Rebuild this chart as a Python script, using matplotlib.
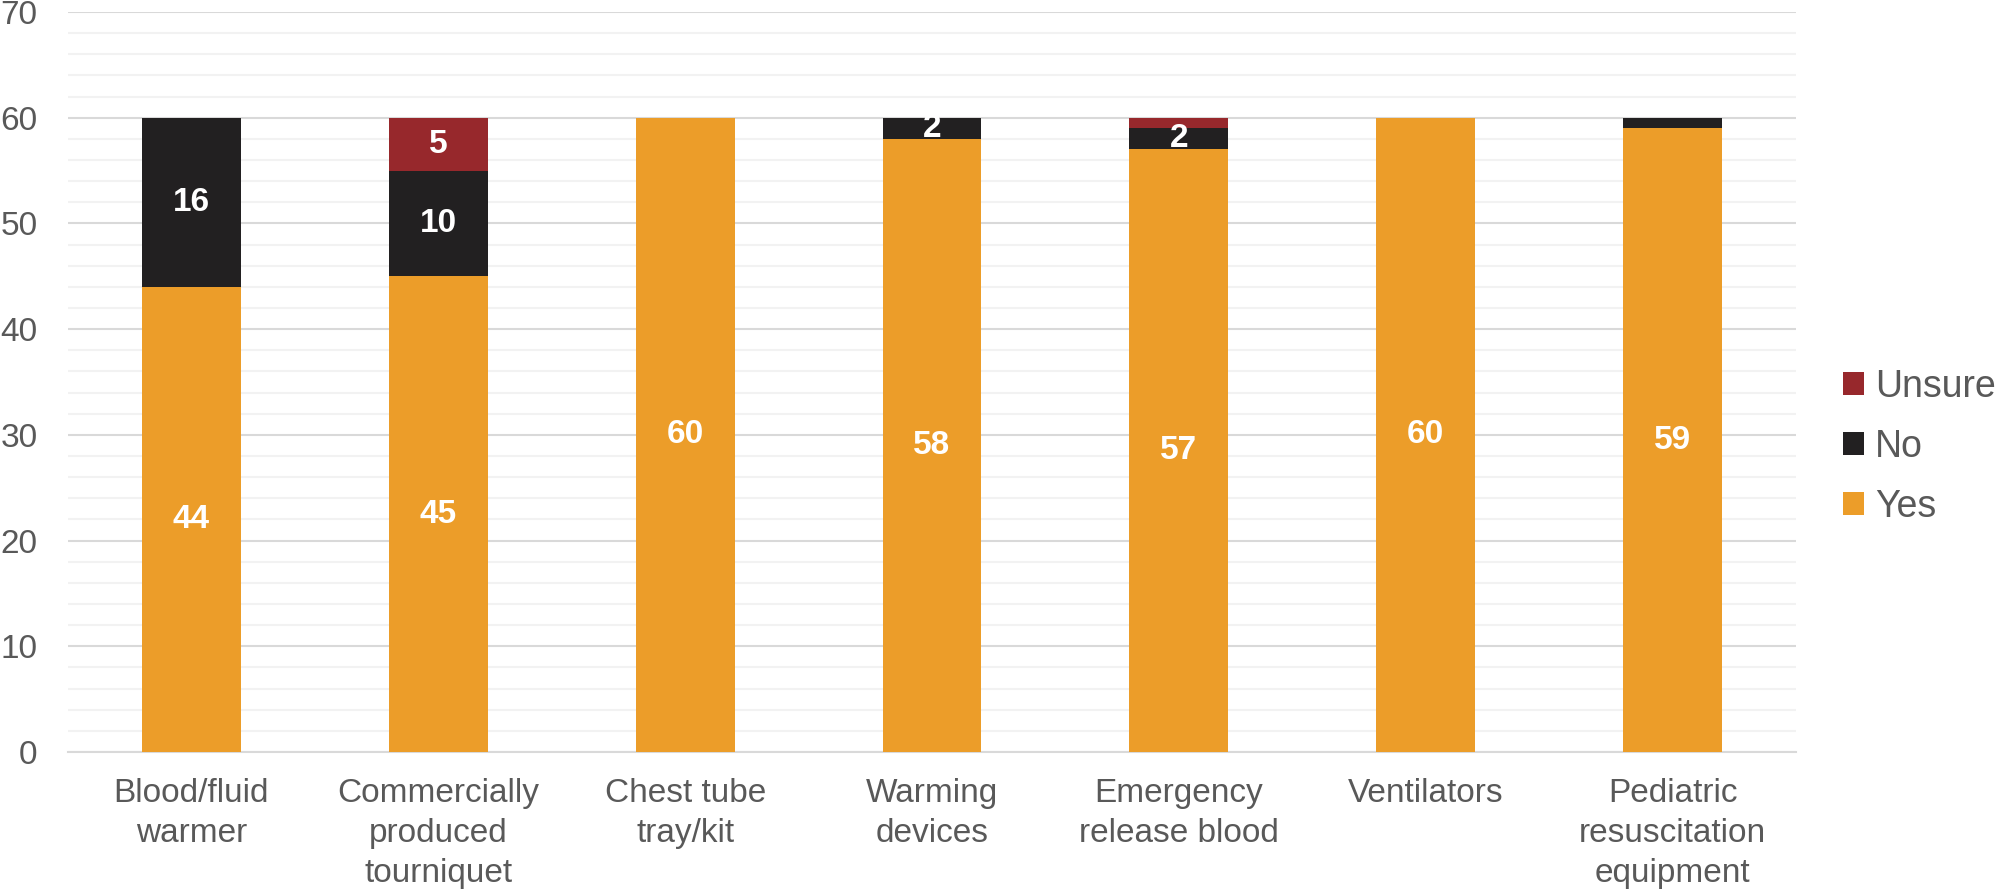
import numpy as np
import matplotlib.pyplot as plt

plt.rcParams["font.family"] = ["Liberation Sans", "DejaVu Sans"]

categories = [
    "Blood/fluid\nwarmer",
    "Commercially\nproduced\ntourniquet",
    "Chest tube\ntray/kit",
    "Warming\ndevices",
    "Emergency\nrelease blood",
    "Ventilators",
    "Pediatric\nresuscitation\nequipment",
]
yes = [44, 45, 60, 58, 57, 60, 59]
no = [16, 10, 0, 2, 2, 0, 1]
unsure = [0, 5, 0, 0, 1, 0, 0]

colors = {"Yes": "#EC9D29", "No": "#222021", "Unsure": "#97282C"}
text_gray = "#595959"

fig = plt.figure(figsize=(20.03, 8.89), dpi=100)
ax = fig.add_axes([68 / 2003, 1 - 752 / 889, (1796 - 68) / 2003, (752 - 12) / 889])

x = np.arange(len(categories))
width = 0.4
bottom = np.zeros(len(categories))
handles = {}
for name, vals in [("Yes", yes), ("No", no), ("Unsure", unsure)]:
    vals = np.array(vals)
    bars = ax.bar(x, vals, width, bottom=bottom, color=colors[name], zorder=3)
    handles[name] = bars
    # small segments (value 1) carry no label
    for xi, b, v in zip(x, bottom, vals):
        if v >= 2:
            ax.text(xi, b + v / 2, str(v), ha="center", va="center",
                    color="white", fontsize=24, fontweight="bold", zorder=4)
    bottom = bottom + vals

ax.set_xlim(-0.5, len(categories) - 0.5)
ax.set_ylim(0, 70)
ax.set_yticks(np.arange(0, 71, 10))
ax.set_yticks(np.arange(0, 71, 2), minor=True)
ax.grid(axis="y", which="major", color="#D9D9D9", linewidth=1.5, zorder=0)
ax.grid(axis="y", which="minor", color="#F2F2F2", linewidth=1.5, zorder=0)
ax.set_axisbelow(True)
for side in ["top", "right", "left"]:
    ax.spines[side].set_visible(False)
ax.spines["bottom"].set_color("#D9D9D9")
ax.spines["bottom"].set_linewidth(1.5)

ax.set_xticks(x)
ax.set_xticklabels(categories, fontsize=24, color=text_gray, linespacing=1.37)
ax.tick_params(axis="x", length=0, pad=19)
ax.tick_params(axis="y", which="both", length=0, pad=22, labelsize=24, labelcolor=text_gray)

leg = fig.legend(
    [handles["Unsure"], handles["No"], handles["Yes"]],
    ["Unsure", "No", "Yes"],
    loc="center left", bbox_to_anchor=(1843 / 2003, 1 - 447 / 889),
    frameon=False, fontsize=27, handlelength=0.56, handleheight=0.56,
    handletextpad=0.3, labelspacing=0.64, labelcolor=text_gray,
    borderaxespad=0, borderpad=0,
)

fig.savefig("out.png", dpi=100)
